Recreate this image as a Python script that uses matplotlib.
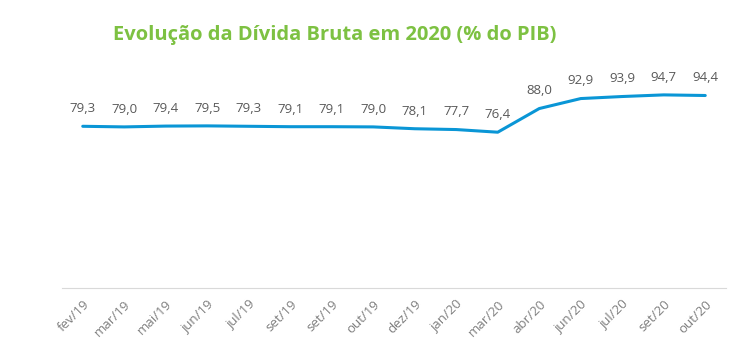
import matplotlib
matplotlib.use("Agg")
import matplotlib.pyplot as plt

months = ["fev/19", "mar/19", "mai/19", "jun/19", "jul/19", "set/19", "set/19", "out/19",
          "dez/19", "jan/20", "mar/20", "abr/20", "jun/20", "jul/20", "set/20", "out/20"]
values = [79.3, 79.0, 79.4, 79.5, 79.3, 79.1, 79.1, 79.0, 78.1, 77.7, 76.4, 88.0, 92.9, 93.9, 94.7, 94.4]
title = "Evolução da Dívida Bruta em 2020 (% do PIB)"

plt.rcParams['font.family'] = ['Open Sans', 'DejaVu Sans']

fig = plt.figure(figsize=(7.51, 3.56), dpi=100)
ax = fig.add_axes([62/751, 68/356, (726-62)/751, 208/356])
x = list(range(len(values)))
ax.plot(x, values, color="#0A96D6", linewidth=2.2, solid_capstyle="round")
for xi, v in zip(x, values):
    ax.annotate(f"{v:.1f}".replace(".", ","), (xi, v), xytext=(0, 8), textcoords="offset points",
                ha="center", va="bottom", fontsize=9.5, color="#595959")
ax.set_xlim(-0.5, len(values) - 0.5)
ax.set_ylim(0, 102)
ax.set_xticks(x)
ax.set_xticklabels(months, rotation=45, ha="right", rotation_mode="anchor", fontsize=9.5, color="#7F7F7F")
ax.tick_params(axis="x", length=0, pad=7)
ax.set_yticks([])
for s in ["top", "left", "right"]:
    ax.spines[s].set_visible(False)
ax.spines["bottom"].set_color("#D9D9D9")
fig.text(335/751, 1 - 35/356, title, ha="center", va="center", fontsize=14.5, fontweight="bold", color="#7DC142")
fig.savefig("out.png", dpi=100)
